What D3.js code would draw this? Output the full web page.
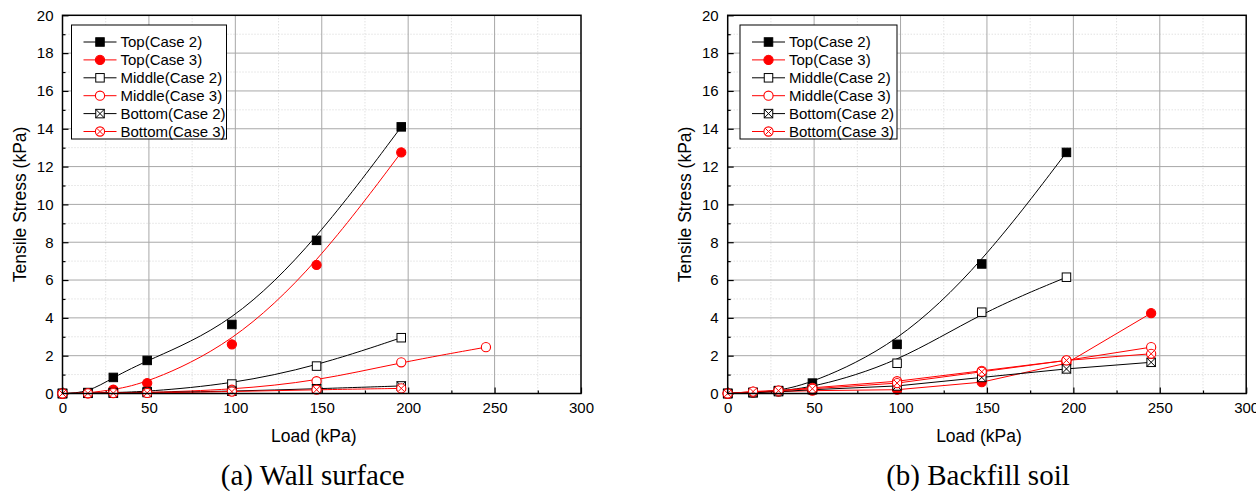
<!DOCTYPE html>
<html>
<head>
<meta charset="utf-8">
<script src="https://cdn.jsdelivr.net/npm/d3@7"></script>
<style>
  body { margin: 0; background: #fff; }
</style>
</head>
<body>
<div id="wrapper"></div>
<script>
// load steps (kPa)
const loads = [0, 14.7, 29.4, 49, 98, 147, 196, 245]
const seriesNames = ["Top(Case 2)", "Top(Case 3)", "Middle(Case 2)", "Middle(Case 3)", "Bottom(Case 2)", "Bottom(Case 3)"]
const xTicks = [0, 50, 100, 150, 200, 250, 300]
const yTicks = [0, 2, 4, 6, 8, 10, 12, 14, 16, 18, 20]

// (a) wall surface - tensile stress (kPa), aligned with loads
const wallTopCase2 = [0, 0.05, 0.85, 1.75, 3.65, 8.1, 14.1]
const wallTopCase3 = [0, 0.02, 0.2, 0.55, 2.6, 6.8, 12.75]
const wallMiddleCase2 = [0, 0.02, 0.05, 0.1, 0.5, 1.45, 2.95]
const wallMiddleCase3 = [0, 0.02, 0.05, 0.05, 0.2, 0.65, 1.65, 2.45]
const wallBottomCase2 = [0, 0.01, 0.02, 0.05, 0.12, 0.25, 0.4]
const wallBottomCase3 = [0, 0.01, 0.02, 0.03, 0.1, 0.2, 0.27]

// (b) backfill soil
const soilTopCase2 = [0, 0.05, 0.15, 0.55, 2.6, 6.85, 12.75]
const soilTopCase3 = [0, 0.05, 0.1, 0.15, 0.2, 0.6, 1.6, 4.25]
const soilMiddleCase2 = [0, 0.05, 0.15, 0.3, 1.6, 4.3, 6.15]
const soilMiddleCase3 = [0, 0.1, 0.15, 0.3, 0.65, 1.2, 1.75, 2.45]
const soilBottomCase2 = [0, 0.05, 0.1, 0.2, 0.4, 0.85, 1.3, 1.65]
const soilBottomCase3 = [0, 0.1, 0.15, 0.25, 0.55, 1.15, 1.75, 2.1]

const sans = "Arial, 'Liberation Sans', sans-serif"
const serif = "'Times New Roman', 'Liberation Serif', serif"

const svg = d3.select("#wrapper")
    .append("svg")
        .attr("width", 1256)
        .attr("height", 491)
        .style("font-family", sans)

const markerTypes = ["filledSquare", "filledCircle", "openSquare", "openCircle", "xSquare", "xCircle"]
const colors = ["#000", "#f00", "#000", "#f00", "#000", "#f00"]

function drawMarker(g, type, color) {
    const s = 8.5, r = 4.6
    if (type.endsWith("Square")) {
        g.append("rect")
            .attr("x", -s / 2).attr("y", -s / 2)
            .attr("width", s).attr("height", s)
            .attr("fill", type == "filledSquare" ? color : "#fff")
            .attr("stroke", color).attr("stroke-width", 1)
        if (type == "xSquare") {
            g.append("path")
                .attr("d", `M${-s/2},${-s/2}L${s/2},${s/2}M${s/2},${-s/2}L${-s/2},${s/2}`)
                .attr("stroke", color).attr("stroke-width", 1)
        }
    } else {
        g.append("circle")
            .attr("r", r)
            .attr("fill", type == "filledCircle" ? color : "#fff")
            .attr("stroke", color).attr("stroke-width", 1.1)
        if (type == "xCircle") {
            const k = r * 0.707
            g.append("path")
                .attr("d", `M${-k},${-k}L${k},${k}M${k},${-k}L${-k},${k}`)
                .attr("stroke", color).attr("stroke-width", 1)
        }
    }
}

function drawPanel(opts) {
    const { left, series, smooth, caption, legendX, legendW } = opts
    const top = 15.3, width = 518.5, height = 378.2

    const x = d3.scaleLinear().domain([0, 300]).range([left, left + width])
    const y = d3.scaleLinear().domain([0, 20]).range([top + height, top])

    const panel = svg.append("g")

    // minor grid (dotted)
    const minorX = d3.range(25, 300, 50)
    const minorY = d3.range(1, 20, 2)
    panel.append("g").selectAll("line")
        .data(minorX)
        .join("line")
            .attr("x1", d => x(d)).attr("x2", d => x(d))
            .attr("y1", top).attr("y2", top + height)
            .attr("stroke", "#d4d4d4").attr("stroke-dasharray", "1,2")
    panel.append("g").selectAll("line")
        .data(minorY)
        .join("line")
            .attr("y1", d => y(d)).attr("y2", d => y(d))
            .attr("x1", left).attr("x2", left + width)
            .attr("stroke", "#d4d4d4").attr("stroke-dasharray", "1,2")

    // major grid
    panel.append("g").selectAll("line")
        .data(xTicks.slice(1, -1))
        .join("line")
            .attr("x1", d => x(d)).attr("x2", d => x(d))
            .attr("y1", top).attr("y2", top + height)
            .attr("stroke", "#a8a8a8").attr("stroke-width", 1)
    panel.append("g").selectAll("line")
        .data(yTicks.slice(1, -1))
        .join("line")
            .attr("y1", d => y(d)).attr("y2", d => y(d))
            .attr("x1", left).attr("x2", left + width)
            .attr("stroke", "#a8a8a8").attr("stroke-width", 1)

    // axes with inward ticks
    const xAxis = panel.append("g")
        .attr("transform", `translate(0,${top + height})`)
        .call(d3.axisBottom(x).tickValues(xTicks).tickSizeInner(-6).tickSizeOuter(0).tickPadding(9))
    const xMinor = panel.append("g")
        .attr("transform", `translate(0,${top + height})`)
        .call(d3.axisBottom(x).tickValues(minorX).tickSizeInner(-3).tickSizeOuter(0).tickFormat(""))
    const yAxis = panel.append("g")
        .attr("transform", `translate(${left},0)`)
        .call(d3.axisLeft(y).tickValues(yTicks).tickSizeInner(-6).tickSizeOuter(0).tickPadding(9))
    const yMinor = panel.append("g")
        .attr("transform", `translate(${left},0)`)
        .call(d3.axisLeft(y).tickValues(minorY).tickSizeInner(-3).tickSizeOuter(0).tickFormat(""))
    for (const a of [xAxis, xMinor, yAxis, yMinor]) {
        a.attr("font-family", sans).attr("font-size", 15)
        a.select(".domain").remove()
        a.selectAll("line").attr("stroke", "#000").attr("stroke-width", 1.2)
        a.selectAll("text").attr("fill", "#000")
    }

    // series lines + markers
    series.forEach((vals, i) => {
        const pts = vals.map((v, j) => [loads[j], v])
        const line = d3.line()
            .x(d => x(d[0]))
            .y(d => y(d[1]))
            .curve(smooth.includes(i) ? d3.curveBasis : d3.curveLinear)
        panel.append("path")
            .datum(pts)
            .attr("d", line)
            .attr("fill", "none")
            .attr("stroke", colors[i])
            .attr("stroke-width", 1)
    })
    series.forEach((vals, i) => {
        const pts = vals.map((v, j) => [loads[j], v])
        panel.append("g").selectAll("g")
            .data(pts)
            .join("g")
                .attr("transform", d => `translate(${x(d[0])},${y(d[1])})`)
                .each(function() { drawMarker(d3.select(this), markerTypes[i], colors[i]) })
    })

    // legend
    const legend = panel.append("g")
    legend.append("rect")
        .attr("x", legendX).attr("y", 25)
        .attr("width", legendW).attr("height", 114)
        .attr("fill", "#fff").attr("stroke", "#000").attr("stroke-width", 1)
    seriesNames.forEach((name, i) => {
        const ly = 42 + i * 17.9
        const row = legend.append("g")
        row.append("line")
            .attr("x1", legendX + 12).attr("x2", legendX + 45)
            .attr("y1", ly).attr("y2", ly)
            .attr("stroke", colors[i]).attr("stroke-width", 1)
        drawMarker(row.append("g").attr("transform", `translate(${legendX + 28.5},${ly})`), markerTypes[i], colors[i])
        row.append("text")
            .attr("x", legendX + 49).attr("y", ly)
            .attr("dy", "0.36em")
            .attr("font-size", 15)
            .attr("fill", "#000")
            .text(name)
    })

    // frame
    panel.append("rect")
        .attr("x", left).attr("y", top)
        .attr("width", width).attr("height", height)
        .attr("fill", "none").attr("stroke", "#000").attr("stroke-width", 1.5)

    // titles
    panel.append("text")
        .attr("x", left + width / 2 - 8).attr("y", 442)
        .attr("text-anchor", "middle")
        .attr("font-size", 17.5)
        .text("Load (kPa)")
    panel.append("text")
        .attr("transform", `translate(${left - 43},${top + height / 2}) rotate(-90)`)
        .attr("text-anchor", "middle")
        .attr("dy", "0.36em")
        .attr("font-size", 17.5)
        .text("Tensile Stress (kPa)")
    panel.append("text")
        .attr("x", left + width / 2 - 9).attr("y", 485)
        .attr("text-anchor", "middle")
        .style("font-family", serif)
        .attr("font-size", 29)
        .text(caption)
}

drawPanel({
    left: 62.5,
    series: [wallTopCase2, wallTopCase3, wallMiddleCase2, wallMiddleCase3, wallBottomCase2, wallBottomCase3],
    smooth: [0, 1, 2, 3, 4, 5],
    caption: "(a) Wall surface",
    legendX: 71.5,
    legendW: 155
})

drawPanel({
    left: 727.7,
    series: [soilTopCase2, soilTopCase3, soilMiddleCase2, soilMiddleCase3, soilBottomCase2, soilBottomCase3],
    smooth: [0, 2],
    caption: "(b) Backfill soil",
    legendX: 740,
    legendW: 157
})
</script>
</body>
</html>
